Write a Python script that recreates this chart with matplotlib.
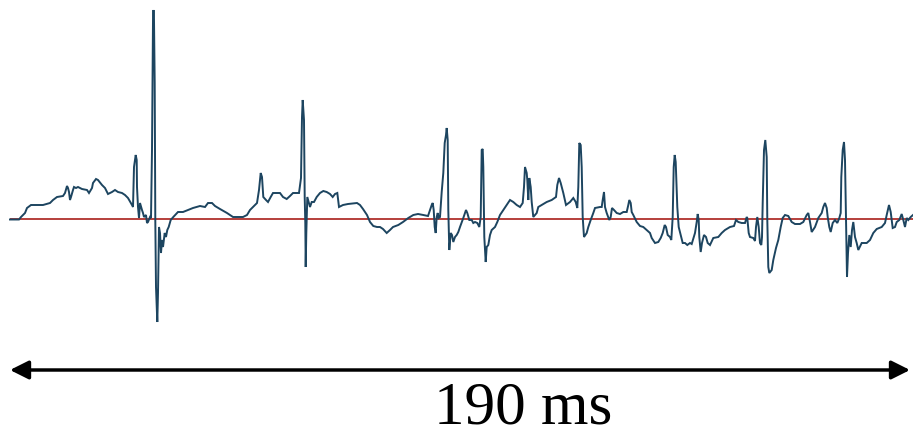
import matplotlib
matplotlib.use("Agg")
import matplotlib.pyplot as plt

# trace: sample index and amplitude (arbitrary units, baseline = 0)
t = [0, 9, 11, 15, 17, 21, 33, 40, 43, 47, 53, 55, 57, 58, 59, 60, 61, 63, 64, 66, 68, 72, 77, 79, 82, 83, 86, 88,
     92, 95, 98, 102, 105, 108, 112, 115, 118, 122, 123, 124, 125.7, 126.7, 127, 128, 129, 130, 132, 133, 134, 136,
     137, 138, 140, 141, 142, 143, 143.5, 144, 144.7, 145.3, 146, 147.3, 148, 149, 150, 151, 152, 153, 154.7, 156,
     157.3, 158.7, 160.7, 163.3, 168, 173, 178, 183, 190, 195, 198, 202, 205, 210, 217, 223, 233, 237, 240, 245,
     247, 249, 250.7, 252, 253.3, 256, 258, 260.7, 263, 270, 273, 276.7, 280, 283, 288, 289, 291, 292, 292.7, 293.3,
     294, 294.7, 295.3, 295.7, 296.3, 297.3, 298.7, 300, 301.7, 304, 306.7, 310, 313.3, 316.7, 320, 322.7, 325,
     327.3, 329, 333, 338, 347, 350, 353, 357, 360, 363.3, 367, 370, 373, 376.7, 380, 383, 388.3, 393, 398.3, 403.3,
     408, 413.3, 418, 421.7, 422.7, 423.7, 424.7, 425.7, 426.7, 427.7, 428.7, 430, 431.7, 433.3, 434.7, 436, 436.7,
     437.7, 438.3, 439.3, 440.7, 442, 443.3, 445, 446.7, 448.3, 450, 453.3, 456, 457.3, 459.3, 461.7, 463.3, 465,
     467.3, 469.3, 470.7, 471.7, 472.7, 473.3, 474.3, 475.7, 476.7, 478.3, 480, 481.7, 485, 487.3, 490, 493.3,
     496.7, 500, 503.3, 506.7, 510, 512.7, 514, 515, 516.7, 517.3, 518.3, 519.3, 520.7, 521.7, 523.3, 526.7, 528.3,
     531.7, 536.7, 541.7, 546, 547.3, 549, 550.7, 553.3, 556, 560, 563.3, 565.7, 567.3, 568.3, 569.3, 570.7, 571.7,
     572.7, 574, 576.7, 578.3, 580.7, 583.3, 585, 590, 591.7, 592.7, 594, 595, 596.7, 599.3, 600.7, 602, 604, 606.7,
     610, 613.3, 616.7, 618.3, 619.3, 620.7, 621.7, 623.3, 626.7, 630, 633.3, 636.7, 640, 641.7, 645, 648.3, 650.7,
     652.7, 654.7, 656, 657.7, 660, 661.3, 662.7, 663.7, 664.7, 665.7, 667.3, 668.7, 670.7, 672.7, 675, 677.3, 680,
     681.7, 685, 686.7, 687.7, 688.7, 689.3, 690.7, 692, 694, 696, 697.7, 700, 703.3, 708.3, 711.7, 715, 720, 724,
     726, 728.3, 731.7, 735, 736.7, 737.3, 738.7, 740, 743.3, 745, 746, 747.3, 748.7, 750, 751.3, 752, 752.7, 754,
     755.3, 756.7, 757.3, 758.3, 759.3, 761.7, 763.3, 766, 768.3, 770.7, 772.7, 775, 778.3, 781.7, 785, 790, 793.3,
     796.7, 798.3, 800, 801.7, 805, 808.3, 811.7, 813.3, 815, 816.7, 817.7, 819.3, 820.7, 822.7, 825, 827.3, 829.3,
     830.7, 831.3, 832.7, 834, 835, 836, 837, 838, 839.3, 840.7, 842, 843.3, 845, 846.7, 848.3, 851.7, 856.7, 860,
     863.3, 866.7, 871.7, 875, 876.7, 879, 880.7, 882.7, 885, 886.7, 889.3, 891.7, 893.3, 895, 896.7, 898.3, 900.7,
     903]
amp = [-0.5, -0.5, 2, 6, 11, 14, 14, 16, 19, 22, 23, 26, 33, 31, 27, 19, 22, 29, 32, 31, 32, 30, 29, 26, 31, 36, 40,
       39, 34, 31, 25, 27, 29, 27, 26, 24, 21, 14, 12, 52, 64, 59, 32, 12, 1, 16, 9, 6, 2, 4, -4, -3, 2, 1, 69, 199,
       209, 199, 136, -1, -68, -103, -74, -8, -14, -34, -21, -28, -14, -18, -11, -8, -1, 2, 7, 7, 9, 11, 13, 12, 16,
       16, 13, 10, 6, 2, 2, 4, 9, 14, 16, 29, 46, 42, 22, 19, 17, 22, 26, 26, 22, 20, 23, 26, 26, 26, 41, 102, 119,
       109, 99, 22, -4, -48, -14, 22, 17, 12, 17, 17, 22, 26, 28, 27, 25, 22, 25, 26, 12, 14, 15, 16, 14, 10, 4, -3,
       -7, -8, -8, -10, -14, -11, -8, -6, -3, 1, 4, 5, 4, 3, 14, 16, 9, -8, -14, 2, 6, 1, 2, 27, 46, 76, 84, 91, 79,
       9, -31, -14, -16, -23, -18, -16, -13, -8, 1, 9, 6, -1, -1, -4, -3, -4, -8, 2, 69, 70, 52, -18, -43, -28, -26,
       -16, -11, -8, -3, 4, 9, 14, 19, 17, 14, 12, 16, 32, 52, 46, 39, 19, 41, 32, 17, 2, 6, 12, 14, 17, 19, 22, 34,
       41, 36, 26, 14, 17, 21, 17, 11, 32, 76, 74, 52, 2, -18, -14, -8, -1, 6, 11, 12, 12, 19, 27, 12, 6, -1, 2, 11,
       9, 6, 5, 7, 7, 14, 19, 16, 7, 4, -3, -7, -8, -11, -14, -19, -24, -23, -19, -14, -6, -8, -16, -18, -21, 2, 52,
       64, 57, 12, -8, -16, -24, -24, -26, -24, -25, -14, -3, 5, -1, -18, -33, -24, -16, -18, -24, -26, -19, -18,
       -14, -11, -8, -7, -1, -3, -4, -4, 2, 1, -14, -18, -19, -22, -8, 2, -8, -24, -26, -18, 16, 69, 79, 62, -1,
       -48, -54, -51, -41, -29, -21, -8, 1, 4, 3, -3, -5, -5, -3, 4, 6, -3, -13, -8, 1, 6, 12, 16, 11, 2, -8, -13,
       -4, -1, -4, 1, 6, 42, 69, 77, 59, -1, -58, -34, -16, -28, -11, -3, -18, -24, -31, -24, -24, -21, -14, -10, -8,
       -4, 4, 14, 7, -9, -8, -3, -1, 5, -1, -8, 1, -1, 2, 4]

span_samples = 900   # length of the scale bar in samples
span_label = "190 ms"

fig = plt.figure(figsize=(9.13, 4.37), dpi=100)
ax = fig.add_axes([0, 0, 1, 1])
ax.set_xlim(-10, 903)
ax.set_ylim(-218, 219)
ax.axis("off")

# baseline
ax.hlines(0, t[0], t[-1], color="#b0302c", lw=1.3, zorder=1)
# trace
ax.plot(t, amp, color="#1d4560", lw=1.4, zorder=2, solid_joinstyle="miter")

# scale bar
ax.annotate("", xy=(t[0], -151), xytext=(t[0] + span_samples, -151),
            arrowprops=dict(arrowstyle="<|-|>", color="black", lw=2.5,
                            mutation_scale=28, shrinkA=0, shrinkB=0))
ax.text(t[0] + 513, -190, span_label, ha="center", va="center",
        fontsize=44, family="Liberation Serif")

fig.savefig("out.png", dpi=100)
